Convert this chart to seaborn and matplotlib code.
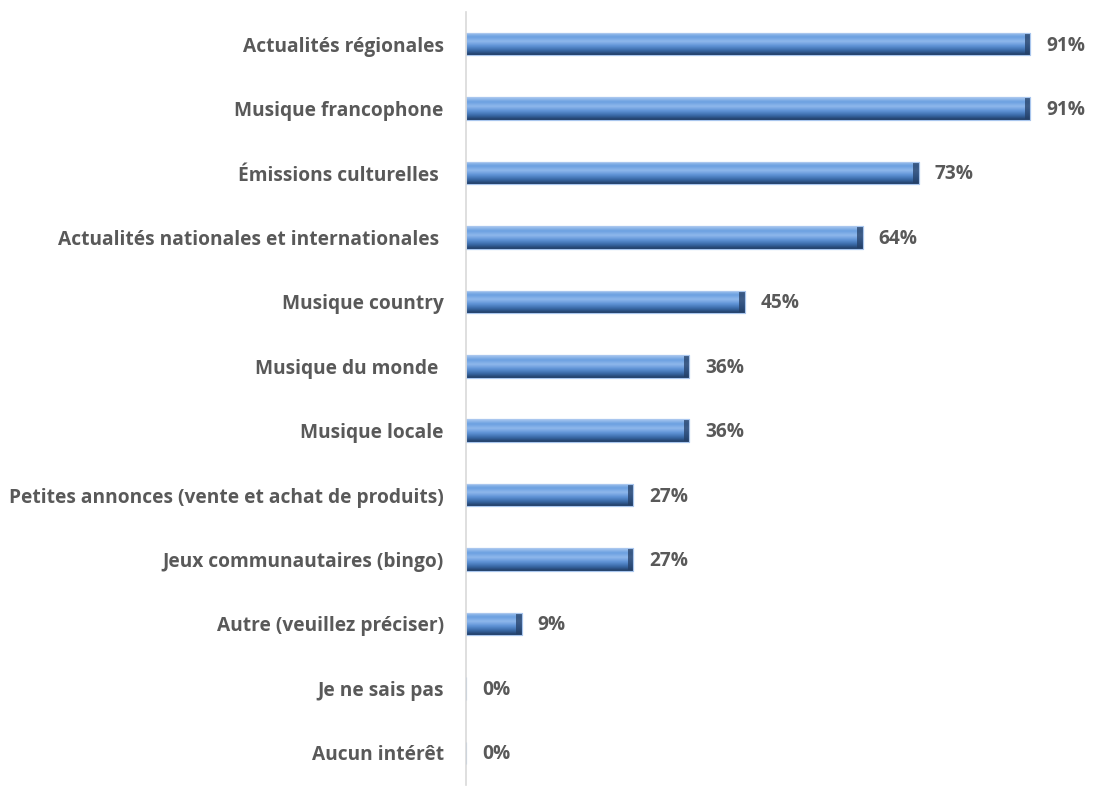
import numpy as np
import pandas as pd
import matplotlib
matplotlib.use("Agg")
import matplotlib.pyplot as plt
import seaborn as sns
from matplotlib.colors import LinearSegmentedColormap

categories = [
    "Actualités régionales",
    "Musique francophone",
    "Émissions culturelles ",
    "Actualités nationales et internationales ",
    "Musique country",
    "Musique du monde ",
    "Musique locale",
    "Petites annonces (vente et achat de produits)",
    "Jeux communautaires (bingo)",
    "Autre (veuillez préciser)",
    "Je ne sais pas",
    "Aucun intérêt",
]
values = [91, 91, 73, 64, 45, 36, 36, 27, 27, 9, 0, 0]

df = pd.DataFrame({"categorie": categories, "pct": values})

sns.set_theme(style="white")
plt.rcParams["font.family"] = ["Open Sans", "DejaVu Sans"]
text_color = "#595959"
fsize = 13.8

fig = plt.figure(figsize=(10.93, 7.88), dpi=100)
ax = fig.add_axes([0.4263, 0.0038, 0.9936 - 0.4263, 0.9848 - 0.0038])

sns.barplot(data=df, x="pct", y="categorie", orient="h", ax=ax,
            color="#4f81bd", width=0.35, edgecolor="#9dbce6", linewidth=0.8,
            saturation=1)

# vertical shading for a bevelled, glossy look
shade = LinearSegmentedColormap.from_list(
    "bevel", ["#1f3b63", "#3a6aa8", "#5f93d6", "#8fb8ec", "#6a9fe0", "#a9c8f0"])
grad = np.linspace(0, 1, 64).reshape(-1, 1)
for patch in ax.patches:
    x0, y0 = patch.get_x(), patch.get_y()
    w, h = patch.get_width(), patch.get_height()
    if w <= 0:
        continue
    img = ax.imshow(grad, cmap=shade, aspect="auto",
                    extent=(x0, x0 + w, y0 + h, y0), origin="lower",
                    interpolation="bicubic", zorder=patch.get_zorder() + 0.1)
    img.set_clip_path(patch)
    # darker right end cap
    cap = min(0.9, w * 0.3)
    ax.fill_between([x0 + w - cap, x0 + w], y0, y0 + h, color="#243f66",
                    alpha=0.75, lw=0, zorder=patch.get_zorder() + 0.2)
    ax.add_patch(plt.Rectangle((x0, y0), w, h, fill=False, ec="#a9c6ee",
                               lw=0.8, zorder=patch.get_zorder() + 0.3))

for i, v in enumerate(values):
    ax.annotate(f"{v}%", xy=(v, i), xytext=(11.5, -1), textcoords="offset points",
                ha="left", va="center", fontsize=fsize, fontweight="bold",
                color=text_color)

ax.set_xlim(0, 100)
ax.set_ylim(11.5, -0.5)
ax.set_xlabel("")
ax.set_ylabel("")
ax.set_xticks([])
ax.tick_params(axis="y", length=0, pad=16)
for lbl in ax.get_yticklabels():
    lbl.set_fontsize(fsize)
    lbl.set_fontweight("bold")
    lbl.set_color(text_color)
for side in ["top", "right", "bottom"]:
    ax.spines[side].set_visible(False)
ax.spines["left"].set_color("#d9d9d9")
ax.spines["left"].set_linewidth(1.2)

fig.savefig("out.png", dpi=100)
